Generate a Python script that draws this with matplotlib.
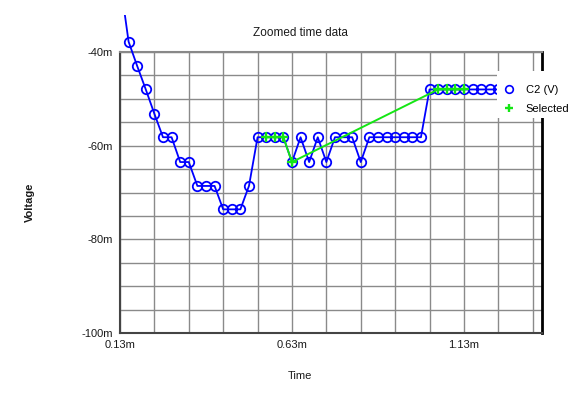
import matplotlib.pyplot as plt
from matplotlib.lines import Line2D
from matplotlib.patches import Rectangle
from matplotlib.ticker import FixedLocator, FuncFormatter

plt.rcParams['font.family'] = ['Liberation Sans', 'DejaVu Sans']

# time in ms, voltage in mV
time_ms = [0.130, 0.155, 0.180, 0.205, 0.230, 0.255, 0.280, 0.305, 0.330, 0.355,
           0.380, 0.405, 0.430, 0.455, 0.480, 0.505, 0.530, 0.555, 0.580, 0.605,
           0.630, 0.655, 0.680, 0.705, 0.730, 0.755, 0.780, 0.805, 0.830, 0.855,
           0.880, 0.905, 0.930, 0.955, 0.980, 1.005, 1.030, 1.055, 1.080, 1.105,
           1.130, 1.155, 1.180, 1.205, 1.230, 1.255, 1.280, 1.305, 1.330, 1.355]
c2_mV = [-24.6, -37.8, -43.0, -48.0, -53.2, -58.2, -58.2, -63.5, -63.5, -68.6,
         -68.6, -68.6, -73.6, -73.6, -73.6, -68.6, -58.2, -58.2, -58.2, -58.2,
         -63.5, -58.2, -63.5, -58.2, -63.5, -58.2, -58.2, -58.2, -63.5, -58.2,
         -58.2, -58.2, -58.2, -58.2, -58.2, -58.2, -48.0, -48.0, -48.0, -48.0,
         -48.0, -48.0, -48.0, -48.0, -48.0, -48.0, -48.0, -48.0, -48.0, -48.0]
selected_idx = [17, 18, 19, 20, 37, 38, 39, 40]

x_ticks = [0.13, 0.63, 1.13]
x_grid = [0.23, 0.33, 0.43, 0.53, 0.73, 0.83, 0.93, 1.03, 1.23, 1.33]
y_ticks = [-100, -80, -60, -40]
y_grid = [-95, -90, -85, -75, -70, -65, -55, -50, -45]

BLUE = '#0000ff'
GREEN = '#14e614'

W, H = 583, 396
fig = plt.figure(figsize=(W / 100, H / 100), dpi=100)
ax = fig.add_axes([120 / W, 1 - 333 / H, 422 / W, 281 / H])

sel_t = [time_ms[i] for i in selected_idx]
sel_v = [c2_mV[i] for i in selected_idx]

l1, = ax.plot(time_ms, c2_mV, '-o', color=BLUE, lw=1.3, ms=6.8,
              mfc='none', mec=BLUE, mew=1.3, zorder=3)
l2, = ax.plot(sel_t, sel_v, '-+', color=GREEN, lw=1.4, ms=6.5, mew=1.7, zorder=4)
# the data is drawn past the plot frame, cut off near the top of the picture
for ln in (l1, l2):
    ln.set_clip_path(Rectangle((0, 0), 1, (H - 15) / H, transform=fig.transFigure))

ax.set_xlim(0.13, 1.357)
ax.set_ylim(-100, -40)
ax.xaxis.set_major_locator(FixedLocator(x_ticks))
ax.xaxis.set_minor_locator(FixedLocator(x_grid))
ax.yaxis.set_major_locator(FixedLocator(y_ticks))
ax.yaxis.set_minor_locator(FixedLocator(y_grid))
ax.xaxis.set_major_formatter(FuncFormatter(lambda v, p: '%.2fm' % v))
ax.yaxis.set_major_formatter(FuncFormatter(lambda v, p: '%dm' % v))
ax.tick_params(which='both', length=0, labelsize=8, colors='#1a1a1a')
ax.tick_params(axis='x', pad=5)
ax.tick_params(axis='y', pad=5)
ax.grid(which='both', color='#8a8a8a', lw=1.0, zorder=0)
ax.set_axisbelow(True)

for s in ('left', 'bottom'):
    ax.spines[s].set_color('#444444')
    ax.spines[s].set_linewidth(1.5)
ax.spines['top'].set_color('#888888')
ax.spines['top'].set_linewidth(1.5)
ax.spines['right'].set_color('black')
ax.spines['right'].set_linewidth(2)

fig.text(300 / W, 1 - 33 / H, 'Zoomed time data', ha='center', va='center',
         fontsize=8.5, color='#1a1a1a')
fig.text(300 / W, 1 - 376 / H, 'Time', ha='center', va='center',
         fontsize=8, color='#1a1a1a')
fig.text(30 / W, 1 - 202 / H, 'Voltage', ha='center', va='center',
         rotation=90, fontsize=8, fontweight='bold', color='#1a1a1a')

# white legend box overlapping the plot on the right
fig.patches.append(Rectangle((497 / W, 1 - 118 / H), 90 / W, 47 / H,
                             transform=fig.transFigure, facecolor='white',
                             edgecolor='none', zorder=8))
handles = [Line2D([], [], ls='none', marker='o', ms=5.5, mfc='none', mec=BLUE, mew=1.2),
           Line2D([], [], ls='none', marker='+', ms=6, mec=GREEN, mew=1.7)]
leg = fig.legend(handles, ['C2 (V)', 'Selected'], loc='upper left',
                 bbox_to_anchor=(498 / W, 1 - 79 / H),
                 frameon=False, fontsize=8,
                 handlelength=1.0, handletextpad=1.0, borderpad=0.5,
                 borderaxespad=0, labelspacing=0.85)
leg.set_zorder(10)

fig.savefig('out.png', dpi=100)
